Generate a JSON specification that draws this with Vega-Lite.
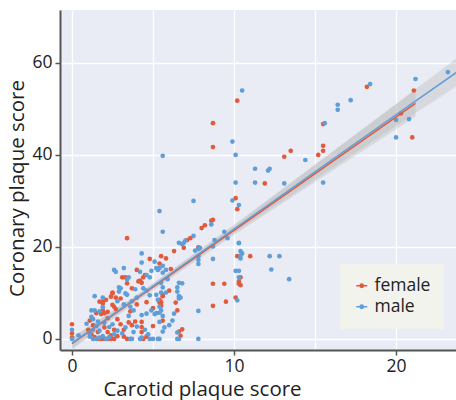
{
"$schema": "https://vega.github.io/schema/vega-lite/v6.json",
"width": 396, "height": 340,
"autosize": "none",
"padding": {"left": 60, "top": 10, "right": 0, "bottom": 50},
"background": "white",
"config": {"view": {"stroke": null, "fill": "#E9ECF5"}, "font": "Open Sans"},
"datasets": {
"pts": [
{"carotid":21.1,"coronary":54.0,"sex":"female"},{"carotid":18.2,"coronary":54.8,"sex":"female"},{"carotid":20.3,"coronary":49.0,"sex":"female"},{"carotid":21.0,"coronary":43.8,"sex":"female"},{"carotid":15.5,"coronary":46.7,"sex":"female"},{"carotid":15.5,"coronary":42.0,"sex":"female"},{"carotid":15.5,"coronary":40.9,"sex":"female"},{"carotid":15.2,"coronary":40.0,"sex":"female"},{"carotid":13.5,"coronary":40.9,"sex":"female"},{"carotid":13.1,"coronary":39.6,"sex":"female"},{"carotid":11.9,"coronary":33.8,"sex":"female"},{"carotid":10.2,"coronary":51.8,"sex":"female"},{"carotid":8.7,"coronary":46.9,"sex":"female"},{"carotid":8.7,"coronary":41.7,"sex":"female"},{"carotid":10.1,"coronary":30.6,"sex":"female"},{"carotid":10.2,"coronary":28.2,"sex":"female"},{"carotid":8.7,"coronary":25.9,"sex":"female"},{"carotid":8.6,"coronary":25.7,"sex":"female"},{"carotid":8.2,"coronary":24.7,"sex":"female"},{"carotid":8.0,"coronary":24.1,"sex":"female"},{"carotid":7.3,"coronary":21.9,"sex":"female"},{"carotid":7.1,"coronary":21.5,"sex":"female"},{"carotid":6.9,"coronary":19.8,"sex":"female"},{"carotid":7.8,"coronary":19.9,"sex":"female"},{"carotid":6.3,"coronary":19.1,"sex":"female"},{"carotid":10.2,"coronary":18.0,"sex":"female"},{"carotid":11.0,"coronary":18.0,"sex":"female"},{"carotid":5.5,"coronary":18.0,"sex":"female"},{"carotid":5.8,"coronary":17.5,"sex":"female"},{"carotid":5.4,"coronary":16.4,"sex":"female"},{"carotid":10.4,"coronary":13.4,"sex":"female"},{"carotid":10.3,"coronary":12.5,"sex":"female"},{"carotid":8.7,"coronary":12.0,"sex":"female"},{"carotid":9.4,"coronary":12.0,"sex":"female"},{"carotid":10.3,"coronary":12.0,"sex":"female"},{"carotid":10.4,"coronary":11.7,"sex":"female"},{"carotid":10.1,"coronary":9.0,"sex":"female"},{"carotid":9.5,"coronary":8.1,"sex":"female"},{"carotid":8.7,"coronary":7.2,"sex":"female"},{"carotid":6.4,"coronary":7.9,"sex":"female"},{"carotid":6.5,"coronary":6.2,"sex":"female"},{"carotid":6.8,"coronary":2.1,"sex":"female"},{"carotid":6.7,"coronary":0.7,"sex":"female"},{"carotid":5.6,"coronary":4.0,"sex":"female"},{"carotid":5.5,"coronary":7.2,"sex":"female"},{"carotid":5.4,"coronary":8.5,"sex":"female"},{"carotid":5.5,"coronary":8.0,"sex":"female"},{"carotid":5.4,"coronary":7.9,"sex":"female"},{"carotid":5.6,"coronary":9.3,"sex":"female"},{"carotid":5.6,"coronary":9.6,"sex":"female"},{"carotid":3.4,"coronary":21.9,"sex":"female"},{"carotid":4.8,"coronary":17.4,"sex":"female"},{"carotid":3.1,"coronary":13.4,"sex":"female"},{"carotid":3.3,"coronary":13.4,"sex":"female"},{"carotid":4.4,"coronary":13.4,"sex":"female"},{"carotid":4.2,"coronary":12.7,"sex":"female"},{"carotid":4.3,"coronary":12.2,"sex":"female"},{"carotid":4.1,"coronary":12.5,"sex":"female"},{"carotid":4.5,"coronary":13.9,"sex":"female"},{"carotid":3.4,"coronary":12.1,"sex":"female"},{"carotid":2.5,"coronary":10.1,"sex":"female"},{"carotid":1.9,"coronary":8.1,"sex":"female"},{"carotid":1.7,"coronary":8.1,"sex":"female"},{"carotid":1.9,"coronary":7.7,"sex":"female"},{"carotid":2.1,"coronary":8.5,"sex":"female"},{"carotid":2.5,"coronary":9.9,"sex":"female"},{"carotid":2.4,"coronary":9.2,"sex":"female"},{"carotid":2.7,"coronary":9.0,"sex":"female"},{"carotid":1.9,"coronary":6.3,"sex":"female"},{"carotid":2.0,"coronary":5.6,"sex":"female"},{"carotid":2.2,"coronary":5.9,"sex":"female"},{"carotid":1.5,"coronary":5.6,"sex":"female"},{"carotid":1.8,"coronary":5.4,"sex":"female"},{"carotid":2.6,"coronary":7.0,"sex":"female"},{"carotid":2.7,"coronary":6.5,"sex":"female"},{"carotid":2.5,"coronary":7.4,"sex":"female"},{"carotid":5.0,"coronary":6.7,"sex":"female"},{"carotid":4.3,"coronary":3.7,"sex":"female"},{"carotid":4.3,"coronary":2.6,"sex":"female"},{"carotid":4.3,"coronary":1.5,"sex":"female"},{"carotid":3.5,"coronary":3.6,"sex":"female"},{"carotid":3.7,"coronary":3.0,"sex":"female"},{"carotid":3.9,"coronary":3.8,"sex":"female"},{"carotid":0,"coronary":3.2,"sex":"female"},{"carotid":0,"coronary":1.2,"sex":"female"},{"carotid":0,"coronary":0.3,"sex":"female"},{"carotid":1.0,"coronary":2.0,"sex":"female"},{"carotid":1.2,"coronary":1.0,"sex":"female"},{"carotid":1.4,"coronary":0.4,"sex":"female"},{"carotid":1.6,"coronary":1.5,"sex":"female"},{"carotid":2.0,"coronary":2.5,"sex":"female"},{"carotid":2.2,"coronary":1.5,"sex":"female"},{"carotid":2.4,"coronary":0.8,"sex":"female"},{"carotid":2.6,"coronary":2.0,"sex":"female"},{"carotid":1.8,"coronary":0,"sex":"female"},{"carotid":2.0,"coronary":0,"sex":"female"},{"carotid":2.2,"coronary":0,"sex":"female"},{"carotid":2.4,"coronary":0,"sex":"female"},{"carotid":2.6,"coronary":0,"sex":"female"},{"carotid":1.6,"coronary":0,"sex":"female"},{"carotid":2.8,"coronary":0.6,"sex":"female"},{"carotid":3.2,"coronary":0.5,"sex":"female"},{"carotid":3.4,"coronary":0,"sex":"female"},{"carotid":4.4,"coronary":0,"sex":"female"},{"carotid":4.6,"coronary":0.5,"sex":"female"},{"carotid":6.6,"coronary":1.6,"sex":"female"},{"carotid":5.0,"coronary":2.8,"sex":"female"},{"carotid":3.0,"coronary":3.2,"sex":"female"},{"carotid":2.8,"coronary":4.3,"sex":"female"},{"carotid":1.3,"coronary":3.0,"sex":"female"},{"carotid":3.0,"coronary":8.8,"sex":"female"},{"carotid":3.6,"coronary":6.0,"sex":"female"},{"carotid":4.0,"coronary":7.5,"sex":"female"},{"carotid":4.6,"coronary":8.0,"sex":"female"},{"carotid":3.7,"coronary":11.0,"sex":"female"},{"carotid":2.2,"coronary":4.5,"sex":"female"},{"carotid":1.1,"coronary":4.0,"sex":"female"},{"carotid":3.2,"coronary":2.0,"sex":"female"},{"carotid":6.0,"coronary":10.5,"sex":"female"},{"carotid":6.1,"coronary":15.2,"sex":"female"},{"carotid":4.0,"coronary":15.0,"sex":"female"},
{"carotid":23.2,"coronary":58.0,"sex":"male"},{"carotid":21.2,"coronary":56.5,"sex":"male"},{"carotid":18.4,"coronary":55.4,"sex":"male"},{"carotid":17.2,"coronary":51.9,"sex":"male"},{"carotid":16.4,"coronary":50.9,"sex":"male"},{"carotid":16.4,"coronary":49.8,"sex":"male"},{"carotid":20.0,"coronary":47.6,"sex":"male"},{"carotid":20.8,"coronary":47.8,"sex":"male"},{"carotid":20.0,"coronary":43.8,"sex":"male"},{"carotid":15.6,"coronary":46.9,"sex":"male"},{"carotid":14.4,"coronary":38.9,"sex":"male"},{"carotid":13.1,"coronary":33.8,"sex":"male"},{"carotid":15.5,"coronary":34.0,"sex":"male"},{"carotid":10.5,"coronary":54.0,"sex":"male"},{"carotid":9.9,"coronary":42.9,"sex":"male"},{"carotid":10.1,"coronary":40.0,"sex":"male"},{"carotid":5.6,"coronary":39.8,"sex":"male"},{"carotid":11.3,"coronary":37.0,"sex":"male"},{"carotid":12.1,"coronary":36.6,"sex":"male"},{"carotid":12.2,"coronary":37.0,"sex":"male"},{"carotid":11.3,"coronary":34.0,"sex":"male"},{"carotid":10.1,"coronary":34.0,"sex":"male"},{"carotid":9.9,"coronary":30.1,"sex":"male"},{"carotid":10.3,"coronary":29.1,"sex":"male"},{"carotid":7.5,"coronary":30.0,"sex":"male"},{"carotid":5.4,"coronary":27.8,"sex":"male"},{"carotid":5.6,"coronary":23.3,"sex":"male"},{"carotid":8.6,"coronary":24.9,"sex":"male"},{"carotid":7.5,"coronary":22.4,"sex":"male"},{"carotid":9.4,"coronary":23.3,"sex":"male"},{"carotid":9.6,"coronary":21.9,"sex":"male"},{"carotid":10.3,"coronary":20.8,"sex":"male"},{"carotid":7.0,"coronary":21.4,"sex":"male"},{"carotid":6.6,"coronary":20.9,"sex":"male"},{"carotid":6.8,"coronary":20.6,"sex":"male"},{"carotid":6.9,"coronary":20.9,"sex":"male"},{"carotid":8.8,"coronary":21.5,"sex":"male"},{"carotid":7.9,"coronary":19.8,"sex":"male"},{"carotid":7.8,"coronary":19.6,"sex":"male"},{"carotid":8.7,"coronary":20.1,"sex":"male"},{"carotid":7.6,"coronary":19.2,"sex":"male"},{"carotid":10.3,"coronary":20.9,"sex":"male"},{"carotid":10.4,"coronary":19.1,"sex":"male"},{"carotid":10.5,"coronary":18.6,"sex":"male"},{"carotid":10.4,"coronary":18.1,"sex":"male"},{"carotid":10.4,"coronary":17.5,"sex":"male"},{"carotid":12.2,"coronary":18.0,"sex":"male"},{"carotid":12.8,"coronary":18.0,"sex":"male"},{"carotid":12.3,"coronary":15.1,"sex":"male"},{"carotid":13.4,"coronary":13.0,"sex":"male"},{"carotid":7.8,"coronary":18.0,"sex":"male"},{"carotid":7.8,"coronary":17.2,"sex":"male"},{"carotid":7.8,"coronary":16.3,"sex":"male"},{"carotid":8.7,"coronary":17.4,"sex":"male"},{"carotid":5.1,"coronary":16.8,"sex":"male"},{"carotid":5.6,"coronary":15.9,"sex":"male"},{"carotid":5.3,"coronary":15.0,"sex":"male"},{"carotid":5.6,"coronary":14.4,"sex":"male"},{"carotid":5.8,"coronary":15.0,"sex":"male"},{"carotid":5.9,"coronary":13.0,"sex":"male"},{"carotid":10.1,"coronary":14.8,"sex":"male"},{"carotid":10.3,"coronary":14.8,"sex":"male"},{"carotid":10.3,"coronary":13.4,"sex":"male"},{"carotid":6.6,"coronary":12.2,"sex":"male"},{"carotid":6.8,"coronary":12.1,"sex":"male"},{"carotid":10.2,"coronary":8.4,"sex":"male"},{"carotid":7.8,"coronary":6.1,"sex":"male"},{"carotid":6.5,"coronary":11.2,"sex":"male"},{"carotid":6.5,"coronary":10.3,"sex":"male"},{"carotid":6.6,"coronary":9.3,"sex":"male"},{"carotid":6.7,"coronary":9.0,"sex":"male"},{"carotid":6.6,"coronary":8.8,"sex":"male"},{"carotid":6.5,"coronary":1.4,"sex":"male"},{"carotid":6.5,"coronary":0,"sex":"male"},{"carotid":7.8,"coronary":0,"sex":"male"},{"carotid":5.4,"coronary":0,"sex":"male"},{"carotid":5.6,"coronary":1.6,"sex":"male"},{"carotid":5.7,"coronary":2.5,"sex":"male"},{"carotid":5.4,"coronary":3.7,"sex":"male"},{"carotid":5.6,"coronary":5.0,"sex":"male"},{"carotid":5.4,"coronary":5.7,"sex":"male"},{"carotid":5.2,"coronary":5.6,"sex":"male"},{"carotid":5.5,"coronary":6.2,"sex":"male"},{"carotid":5.6,"coronary":11.2,"sex":"male"},{"carotid":5.8,"coronary":10.1,"sex":"male"},{"carotid":5.5,"coronary":10.1,"sex":"male"},{"carotid":5.5,"coronary":12.2,"sex":"male"},{"carotid":5.2,"coronary":9.6,"sex":"male"},{"carotid":5.3,"coronary":8.5,"sex":"male"},{"carotid":5.4,"coronary":7.0,"sex":"male"},{"carotid":4.3,"coronary":18.6,"sex":"male"},{"carotid":4.3,"coronary":16.6,"sex":"male"},{"carotid":2.6,"coronary":15.0,"sex":"male"},{"carotid":2.7,"coronary":14.6,"sex":"male"},{"carotid":3.2,"coronary":15.4,"sex":"male"},{"carotid":3.5,"coronary":13.4,"sex":"male"},{"carotid":3.4,"coronary":13.0,"sex":"male"},{"carotid":4.2,"coronary":14.6,"sex":"male"},{"carotid":4.6,"coronary":13.9,"sex":"male"},{"carotid":4.9,"coronary":14.8,"sex":"male"},{"carotid":4.8,"coronary":13.4,"sex":"male"},{"carotid":5.2,"coronary":15.4,"sex":"male"},{"carotid":5.4,"coronary":15.4,"sex":"male"},{"carotid":2.9,"coronary":11.2,"sex":"male"},{"carotid":3.0,"coronary":11.0,"sex":"male"},{"carotid":2.9,"coronary":10.3,"sex":"male"},{"carotid":3.3,"coronary":9.9,"sex":"male"},{"carotid":3.4,"coronary":9.6,"sex":"male"},{"carotid":1.4,"coronary":9.3,"sex":"male"},{"carotid":1.2,"coronary":6.2,"sex":"male"},{"carotid":1.4,"coronary":6.2,"sex":"male"},{"carotid":1.7,"coronary":6.0,"sex":"male"},{"carotid":1.9,"coronary":6.9,"sex":"male"},{"carotid":1.2,"coronary":4.8,"sex":"male"},{"carotid":1.3,"coronary":4.3,"sex":"male"},{"carotid":1.6,"coronary":3.8,"sex":"male"},{"carotid":0.9,"coronary":3.3,"sex":"male"},{"carotid":0,"coronary":2.0,"sex":"male"},{"carotid":0,"coronary":0,"sex":"male"},{"carotid":4.3,"coronary":5.2,"sex":"male"},{"carotid":4.6,"coronary":5.5,"sex":"male"},{"carotid":4.9,"coronary":6.2,"sex":"male"},{"carotid":5.1,"coronary":5.4,"sex":"male"},{"carotid":4.5,"coronary":2.0,"sex":"male"},{"carotid":4.7,"coronary":1.0,"sex":"male"},{"carotid":5.0,"coronary":0,"sex":"male"},{"carotid":4.2,"coronary":0,"sex":"male"},{"carotid":4.3,"coronary":0.3,"sex":"male"},{"carotid":3.6,"coronary":0,"sex":"male"},{"carotid":3.7,"coronary":0,"sex":"male"},{"carotid":4.8,"coronary":0,"sex":"male"},{"carotid":5.3,"coronary":0,"sex":"male"},{"carotid":6.6,"coronary":0,"sex":"male"},{"carotid":1.3,"coronary":0,"sex":"male"},{"carotid":1.5,"coronary":0,"sex":"male"},{"carotid":1.7,"coronary":0.3,"sex":"male"},{"carotid":1.9,"coronary":0.6,"sex":"male"},{"carotid":2.1,"coronary":0,"sex":"male"},{"carotid":2.3,"coronary":0.4,"sex":"male"},{"carotid":2.6,"coronary":1.0,"sex":"male"},{"carotid":1.1,"coronary":1.2,"sex":"male"},{"carotid":1.3,"coronary":2.0,"sex":"male"},{"carotid":1.5,"coronary":2.8,"sex":"male"},{"carotid":1.7,"coronary":1.8,"sex":"male"},{"carotid":2.0,"coronary":3.5,"sex":"male"},{"carotid":2.3,"coronary":2.6,"sex":"male"},{"carotid":2.5,"coronary":3.2,"sex":"male"},{"carotid":2.8,"coronary":1.8,"sex":"male"},{"carotid":3.1,"coronary":1.2,"sex":"male"},{"carotid":3.3,"coronary":2.5,"sex":"male"},{"carotid":3.5,"coronary":5.0,"sex":"male"},{"carotid":3.8,"coronary":6.2,"sex":"male"},{"carotid":4.0,"coronary":9.0,"sex":"male"},{"carotid":3.7,"coronary":8.2,"sex":"male"},{"carotid":3.6,"coronary":7.0,"sex":"male"},{"carotid":3.2,"coronary":7.5,"sex":"male"},{"carotid":2.8,"coronary":8.2,"sex":"male"},{"carotid":1.9,"coronary":9.0,"sex":"male"},{"carotid":4.6,"coronary":10.5,"sex":"male"},{"carotid":4.8,"coronary":9.5,"sex":"male"},{"carotid":4.4,"coronary":11.0,"sex":"male"},{"carotid":3.9,"coronary":10.8,"sex":"male"},{"carotid":1.1,"coronary":0.5,"sex":"male"},{"carotid":0.4,"coronary":0.8,"sex":"male"},{"carotid":6.2,"coronary":4.0,"sex":"male"},{"carotid":6.0,"coronary":3.0,"sex":"male"},{"carotid":6.3,"coronary":5.5,"sex":"male"},{"carotid":3.8,"coronary":1.5,"sex":"male"},{"carotid":4.0,"coronary":2.7,"sex":"male"}
],
"fit": [
{"carotid":0,"coronary":-1.0,"lo":-2.3,"hi":0.3,"sex":"female"},
{"carotid":4,"coronary":8.8,"lo":8.1,"hi":9.5,"sex":"female"},
{"carotid":10,"coronary":23.6,"lo":22.6,"hi":24.6,"sex":"female"},
{"carotid":16,"coronary":38.4,"lo":36.4,"hi":40.4,"sex":"female"},
{"carotid":21.2,"coronary":51.2,"lo":48.3,"hi":54.1,"sex":"female"},
{"carotid":0,"coronary":-0.9,"lo":-2.1,"hi":0.3,"sex":"male"},
{"carotid":4,"coronary":9.0,"lo":8.4,"hi":9.6,"sex":"male"},
{"carotid":10,"coronary":23.9,"lo":23.0,"hi":24.8,"sex":"male"},
{"carotid":16,"coronary":38.8,"lo":37.0,"hi":40.6,"sex":"male"},
{"carotid":21,"coronary":51.2,"lo":48.6,"hi":53.8,"sex":"male"},
{"carotid":24,"coronary":58.6,"lo":55.5,"hi":61.7,"sex":"male"}
]
},
"layer": [
{
"data": {"name": "fit"},
"mark": {"type": "area", "clip": true, "color": "#B8B8B8", "opacity": 0.35},
"encoding": {
"x": {"field": "carotid", "type": "quantitative"},
"y": {"field": "lo", "type": "quantitative"},
"y2": {"field": "hi"},
"detail": {"field": "sex"}
}
},
{
"data": {"name": "pts"},
"mark": {"type": "point", "filled": true, "size": 22, "opacity": 1, "clip": true},
"encoding": {
"x": {"field": "carotid", "type": "quantitative",
"scale": {"domain": [-0.74, 23.7], "nice": false, "zero": false},
"axis": {"values": [0, 5, 10, 15, 20], "labelExpr": "datum.value % 10 === 0 ? datum.label : ''",
"tickOpacity": {"condition": {"test": "datum.value % 10 !== 0", "value": 0}, "value": 1},
"title": "Carotid plaque score", "titleX": 142, "titleY": 45, "titleAlign": "center", "titleBaseline": "alphabetic",
"titleFontSize": 20.5, "titleFontWeight": "normal", "titleColor": "#222",
"labelFontSize": 17.5, "labelColor": "#222", "labelPadding": 2, "labelFlush": false,
"domainColor": "#555", "domainWidth": 2, "tickColor": "#555", "tickSize": 5, "tickWidth": 1.5,
"grid": true, "gridColor": "#FFFFFF", "gridWidth": 1.3}},
"y": {"field": "coronary", "type": "quantitative",
"scale": {"domain": [-2.4, 71.5], "nice": false, "zero": false},
"axis": {"values": [0, 20, 40, 60],
"title": "Coronary plaque score", "titleX": -43, "titleY": 178, "titleAngle": -90, "titleAlign": "center", "titleBaseline": "middle",
"titleFontSize": 20.5, "titleFontWeight": "normal", "titleColor": "#222",
"labelFontSize": 17.5, "labelColor": "#222", "labelPadding": 3,
"domainColor": "#555", "domainWidth": 2, "tickColor": "#555", "tickSize": 5, "tickWidth": 1.5,
"grid": true, "gridColor": "#FFFFFF", "gridWidth": 1.3}},
"color": {"field": "sex", "type": "nominal",
"scale": {"domain": ["female", "male"], "range": ["#E3593B", "#5F9ED8"]},
"legend": {"title": null, "orient": "none", "legendX": 280, "legendY": 254,
"fillColor": "#F3F3EE", "padding": 13, "labelFontSize": 17.5, "labelColor": "#222",
"symbolType": "M-1,0L1,0M-0.3,0a0.3,0.3 0 1,0 0.6,0a0.3,0.3 0 1,0 -0.6,0",
"symbolSize": 120, "symbolStrokeWidth": 1.5, "rowPadding": 2, "labelOffset": 4,
"encode": {"symbols": {"update": {"stroke": {"scale": "color", "field": "value"}, "strokeWidth": {"value": 1.5}, "opacity": {"value": 1}}}}}}
}
},
{
"data": {"name": "fit"},
"mark": {"type": "line", "clip": true, "strokeWidth": 1.5},
"encoding": {
"x": {"field": "carotid", "type": "quantitative"},
"y": {"field": "coronary", "type": "quantitative"},
"color": {"field": "sex", "type": "nominal", "legend": null}
}
}
]
}
